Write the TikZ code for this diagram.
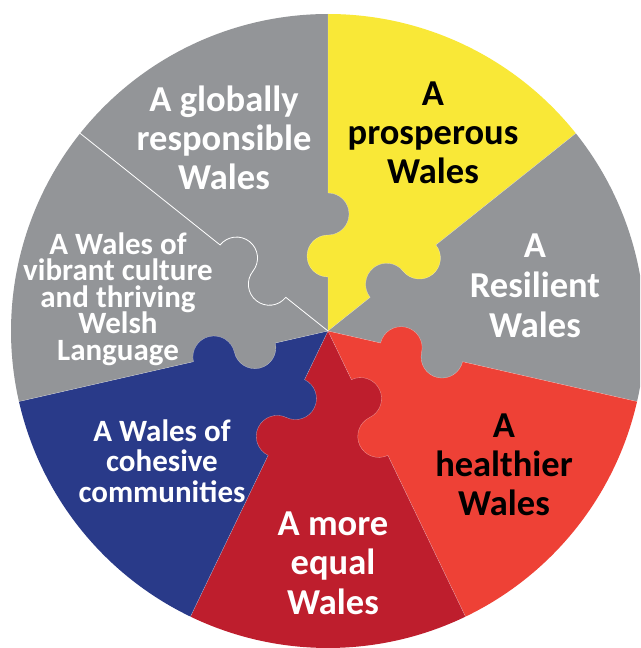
\documentclass[tikz,border=0pt]{standalone}
\usepackage{fontspec}
\setmainfont{Carlito}
\usetikzlibrary{positioning}
\definecolor{wgrey}{RGB}{147,149,152}
\definecolor{wyellow}{RGB}{249,232,55}
\definecolor{wred}{RGB}{238,65,54}
\definecolor{wcrimson}{RGB}{190,30,45}
\definecolor{wnavy}{RGB}{41,58,137}
\newcommand\goalfont[2]{\bfseries\fontsize{#1}{#2}\selectfont\lineskiplimit=-100pt\relax}
\begin{document}
\begin{tikzpicture}[x=1pt,y=1pt,
  goaltext/.style={align=center,inner sep=0pt,font=\goalfont{36.5}{#1}},
  smalltext/.style={align=center,inner sep=0pt,font=\goalfont{31}{#1}},
  seam/.style={white,line width=0.3pt,opacity=0.5},
  whiteseam/.style={white,line width=0.8pt}]
  \clip (-328,-317) rectangle (312,331);
  \fill[white] (-328,-317) rectangle (312,331);
  \foreach \c [count=\k from 0] in {wyellow,wgrey,wred,wcrimson,wnavy,wgrey,wgrey}
    \fill[\c] (0,0) -- ({90-\k*360/7}:317) arc[start angle={90-\k*360/7},delta angle={-360/7},radius=317] -- cycle;
  \foreach \inner/\outer [count=\k from 0] in {wyellow/wgrey,wgrey/wyellow,wred/wgrey,wcrimson/wred,wnavy/wcrimson,wgrey/wnavy,wgrey/wgrey}{
    \fill[\inner,rotate={90-\k*360/7}] (75,0) circle[radius=21];
    \fill[\outer,rotate={90-\k*360/7}] (117,0) circle[radius=21];
  }
  \foreach \k/\s in {0/seam,1/seam,2/seam,3/seam,4/seam,5/seam,6/whiteseam}
    \draw[\s,rotate={90-\k*360/7}] (0,0) -- (54,0) arc[start angle=180,end angle=0,radius=21]
      arc[start angle=180,end angle=360,radius=21] -- (317,0);

  \node[goaltext=39,white] (globally) at (-104,193) {A globally\\responsible\\Wales};
  \node[goaltext=39] (prosperous) at (105,198.5) {A\\prosperous\\Wales};
  \node[goaltext=40,white] (resilient) at (207,45) {A\\Resilient\\Wales};
  \node[goaltext=39] (healthier) at (176,-134) {A\\healthier\\Wales};
  \node[goaltext=39.5,white] (equal) at (5,-232) {A more\\equal\\Wales};
  \node[smalltext=30.5,white] (cohesive) at (-166,-130) {A Wales of\\cohesive\\communities};
  \node[smalltext=26.5,white] (culture) at (-210,32) {A Wales of\\vibrant culture\\and thriving\\Welsh\\Language};
\end{tikzpicture}
\end{document}
